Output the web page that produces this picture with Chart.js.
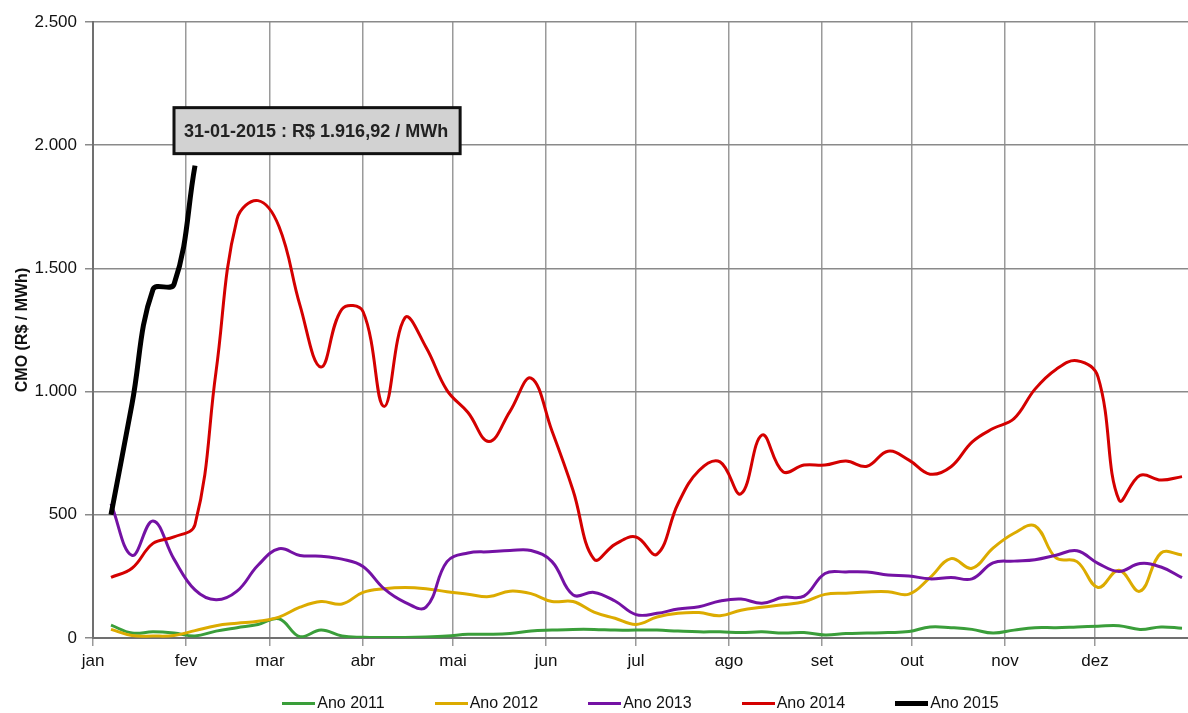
<!DOCTYPE html>
<html><head><meta charset="utf-8">
<script src="https://cdn.jsdelivr.net/npm/chart.js@4"></script>
<style>
html,body{margin:0;padding:0;background:#fff}
#wrap{width:1188px;height:713px;position:relative}
#legend{position:absolute;left:93px;width:1095px;top:693px;display:flex;justify-content:center;gap:50px;font:16px "Liberation Sans",Arial,sans-serif;color:#111}
#legend .item{display:flex;align-items:center;gap:2px;line-height:20px}
#legend .sw{display:inline-block;width:33px}
</style></head>
<body><div id="wrap"><canvas id="cmo"></canvas><div id="legend"></div></div>
<script>
const MONTHS=['jan','fev','mar','abr','mai','jun','jul','ago','set','out','nov','dez'];
const MONTH_START=[0,31,59,90,120,151,181,212,243,273,304,334];
const Y_TICKS=[0,500,1000,1500,2000,2500];
// dia do ano de cada semana
const WEEKS=[6,13,20,27,34,41,48,55,62,69,76,83,90,97,104,111,118,125,132,139,146,153,160,167,174,181,188,195,202,209,216,223,230,237,244,251,258,265,272,279,286,293,300,307,314,321,328,335,342,349,356,363];
const CMO_2011=[52,20,25,20,8,28,42,55,78,5,32,8,3,2,2,4,8,15,15,18,28,32,35,35,32,32,32,28,25,25,22,25,20,22,12,18,20,22,26,45,42,35,20,32,42,42,45,48,50,35,45,40];
const CMO_2012=[35,10,8,10,30,50,60,68,85,125,148,138,185,200,205,200,188,178,168,190,180,148,148,105,80,55,85,100,103,90,113,125,135,147,177,182,187,188,178,245,322,283,365,425,455,325,310,205,275,190,345,337];
const CMO_2013=[545,335,475,320,195,155,190,295,362,335,332,320,290,200,145,125,310,345,350,355,355,310,175,185,150,95,100,118,127,150,158,141,165,170,262,268,268,256,252,240,246,240,305,312,318,336,354,303,270,302,288,245];
const CMO_2014=[246,283,384,410,460,1080,1700,1775,1670,1350,1100,1335,1325,940,1300,1180,1005,915,797,920,1055,840,600,320,380,410,340,545,680,715,585,824,675,702,702,718,697,758,722,665,695,795,850,890,1010,1090,1125,1060,560,660,641,655];
const CMO_2015=[500,950,1415,1435,1917];
const LAST_LABEL='31-01-2015 : R$ 1.916,92 / MWh';

const FONT='"Liberation Sans", Arial, sans-serif';
const pts=arr=>arr.map((v,i)=>({x:WEEKS[i],y:v}));
const fmt=v=>String(v).replace(/\B(?=(\d{3})+(?!\d))/g,'.');
const ser=(label,data,color,w)=>({label,data:pts(data),borderColor:color,backgroundColor:color,borderWidth:w,pointRadius:0,tension:0.4,fill:false});

// caixa com o último valor de 2015
const calloutPlugin={id:'callout',afterDatasetsDraw(chart){
  const meta=chart.getDatasetMeta(0),p=meta.data[meta.data.length-1];
  const c=chart.ctx;c.save();
  c.font='bold 18px '+FONT;
  const w=c.measureText(LAST_LABEL).width+22,h=46;
  const x=p.x-21,y=p.y-12-h;
  c.fillStyle='#d2d2d2';c.fillRect(x,y,w,h);
  c.lineWidth=3;c.strokeStyle='#111';c.strokeRect(x,y,w,h);
  c.fillStyle='#222';c.textBaseline='middle';c.fillText(LAST_LABEL,x+10,y+h/2+1);
  c.restore();
}};

const chart=new Chart(document.getElementById('cmo'),{type:'line',
  data:{datasets:[
    ser('Ano 2015',CMO_2015,'#000000',5),
    ser('Ano 2014',CMO_2014,'#d40000',3),
    ser('Ano 2013',CMO_2013,'#7412a4',3),
    ser('Ano 2012',CMO_2012,'#dcab00',3),
    ser('Ano 2011',CMO_2011,'#3a9e3a',3),
  ]},
  options:{responsive:true,maintainAspectRatio:false,animation:false,
    layout:{padding:{top:22,right:0,bottom:40,left:0}},
    plugins:{tooltip:{enabled:false},legend:{display:false}},
    scales:{
      x:{type:'linear',min:0,max:365,
        afterBuildTicks:s=>{s.ticks=MONTH_START.map(v=>({value:v}));},
        afterFit:s=>{s.height=35;},
        ticks:{autoSkip:false,maxRotation:0,padding:5,color:'#111',font:{family:FONT,size:17},callback:(v,i)=>MONTHS[i]},
        grid:{color:'#9a9a9a',lineWidth:1.5,tickLength:8},border:{color:'#707070',width:2}},
      y:{min:0,max:2500,
        afterBuildTicks:s=>{s.ticks=Y_TICKS.map(v=>({value:v}));},
        afterFit:s=>{s.width=93;},
        ticks:{padding:8,color:'#111',font:{family:FONT,size:17},callback:v=>fmt(v)},
        grid:{color:'#8a8a8a',lineWidth:1.5,tickLength:8},border:{color:'#707070',width:2},
        title:{display:true,text:'CMO (R$ / MWh)',color:'#111',padding:{top:13,bottom:0},font:{family:FONT,size:16,weight:'bold'}}}
    }},
  plugins:[calloutPlugin]
});

// legenda em ordem crescente de ano
document.getElementById('legend').innerHTML=chart.data.datasets.slice().reverse().map(d=>
  `<div class="item"><span class="sw" style="border-top:${d.borderWidth}px solid ${d.borderColor}"></span><span>${d.label}</span></div>`).join('');
</script></body></html>
